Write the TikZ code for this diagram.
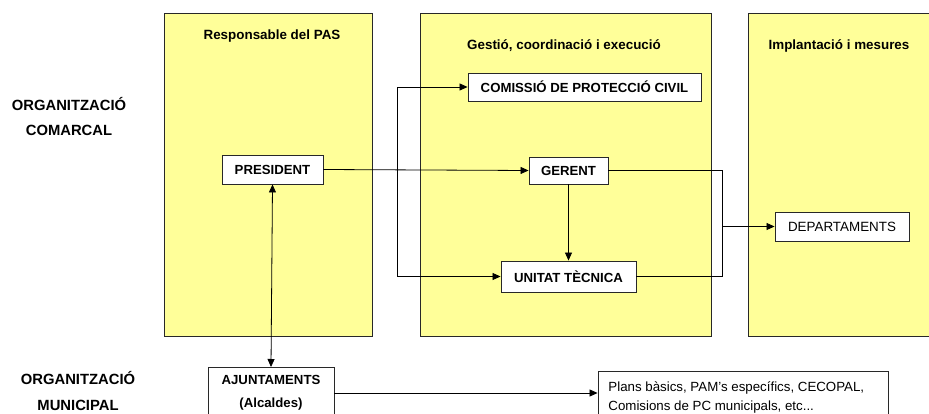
\documentclass[tikz,border=0pt]{standalone}
\usepackage{fontspec}
\setmainfont{Liberation Sans}
\usetikzlibrary{arrows.meta}
\definecolor{paleyellow}{RGB}{255,255,153}
\definecolor{edgegray}{RGB}{40,40,40}
\begin{document}
\begin{tikzpicture}[x=1pt,y=-1pt,
  panel/.style={draw=edgegray,fill=paleyellow,line width=0.9pt},
  nbox/.style={draw=edgegray,fill=white,line width=0.9pt,inner sep=0pt,font=\fontsize{13.2}{15}\selectfont\bfseries},
  rbox/.style={draw=edgegray,fill=white,line width=0.9pt,inner sep=0pt,font=\fontsize{13.4}{15}\selectfont},
  ptitle/.style={font=\fontsize{13.4}{15}\selectfont\bfseries},
  side/.style={font=\fontsize{14.8}{17}\selectfont\bfseries,align=center},
  conn/.style={draw=black,line width=0.8pt},
  arr/.style={conn,-{Triangle[length=8pt,width=7pt]}},
  darr/.style={conn,{Triangle[length=8pt,width=7pt]}-{Triangle[length=8pt,width=7pt]}}
]
\useasboundingbox (0,0) rectangle (929,414);
\clip (0,0) rectangle (929,414);
\fill[white] (0,0) rectangle (929,414);

% panels
\draw[panel] (164,13) rectangle (372,336);
\draw[panel] (420,13) rectangle (711,336);
\draw[panel] (748,13) rectangle (940,336);

\node[ptitle] (t1) at (272,36) {Responsable del PAS};
\node[ptitle] (t2) at (564,46) {Gestió, coordinació i execució};
\node[ptitle] (t3) at (839,46) {Implantació i mesures};

% side labels
\node[side] (com1) at (69,104) {ORGANITZACIÓ};
\node[side] (com2) at (69,130) {COMARCAL};
\node[side] (mun1) at (78,378) {ORGANITZACIÓ};
\node[side] (mun2) at (78,405) {MUNICIPAL};

% nodes
\node[nbox,minimum width=233pt,minimum height=28pt] (comis) at (584.5,87) {COMISSIÓ DE PROTECCIÓ CIVIL};
\node[nbox,minimum width=101pt,minimum height=29pt] (pres) at (272.5,169.5) {PRESIDENT};
\node[nbox,minimum width=79pt,minimum height=27pt] (ger) at (568.5,170.5) {GERENT};
\node[nbox,minimum width=135pt,minimum height=31pt] (unit) at (568.5,276.5) {UNITAT TÈCNICA};
\node[rbox,minimum width=134pt,minimum height=29pt] (dep) at (842,226.5) {DEPARTAMENTS};
\node[draw=edgegray,fill=white,line width=0.9pt,minimum width=126pt,minimum height=60pt,inner sep=0pt,anchor=north] (ajun) at (271,367) {};
\node[nbox,draw=none,fill=none] (ajt) at (271,380) {AJUNTAMENTS};
\node[nbox,draw=none,fill=none] (alc) at (271,404) {(Alcaldes)};
\node[draw=edgegray,fill=white,line width=0.9pt,minimum width=290pt,minimum height=60pt,inner sep=0pt,anchor=north] (plans) at (743,371) {};
\node[rbox,draw=none,fill=none,anchor=west,align=left,font=\fontsize{13.3}{19}\selectfont] (plt) at (608,397.5) {Plans bàsics, PAM's específics, CECOPAL,\\Comisions de PC municipals, etc...};

% connectors
\coordinate (j1) at (397,169.5);
\coordinate (j2) at (722,226.5);
\draw[arr] (pres.east) -- (ger.west);
\draw[arr] (j1) |- (comis.west);
\draw[arr] (j1) |- (unit.west);
\draw[arr] (ger.south) -- (unit.north);
\draw[conn] (ger.east) -| (j2);
\draw[conn] (unit.east) -| (j2);
\draw[arr] (j2) -- (dep.west);
\draw[darr] (pres.south) -- (ajun.north);
\draw[arr] (ajun.east |- 0,393) -- (plans.west |- 0,393);
\end{tikzpicture}
\end{document}
